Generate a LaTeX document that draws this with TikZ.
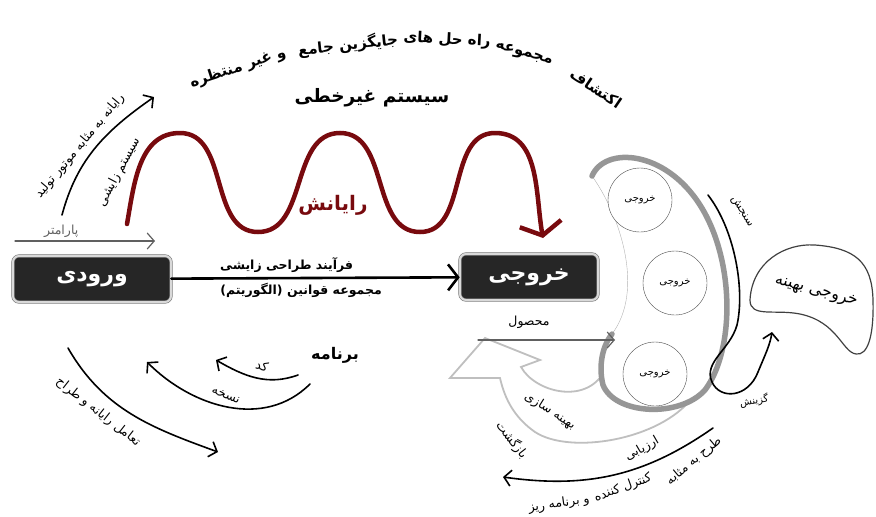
\documentclass[tikz,border=0pt]{standalone}
\usepackage{fontspec}
\usetikzlibrary{arrows.meta,positioning}
\TeXXeTstate=1
\newfontfamily\fafont[Script=Arabic]{DejaVu Sans}
\newcommand{\fa}[1]{{\fafont\beginR #1\endR}}
\definecolor{wavered}{RGB}{120,10,14}
\definecolor{shellgray}{RGB}{150,150,150}

\begin{document}
\begin{tikzpicture}[
    x = 1pt, y = -1pt, % one unit = one pixel of the sketch
    > = {Straight Barb[length=7pt,width=16pt]}, % open arrow heads
    line cap = round,
    semithick % line style
    ]

    \tikzset{
    iobox/.style = {draw = black!55, double = gray!30, double distance = 2pt,
      fill = black!85, rounded corners = 6pt, minimum height = 46pt,
      text = white, font = \fontsize{22}{24}\selectfont\bfseries},
    outcircle/.style = {circle, draw = black!70, thin, fill = white,
      minimum size = 64pt, inner sep = 0pt, font = \fontsize{10}{11}\selectfont},
    smalltext/.style = {font = \fontsize{12.5}{14}\selectfont, inner sep = 1pt},
    boldtext/.style = {font = \fontsize{12.5}{14}\selectfont\bfseries, inner sep = 1pt},
    bigtext/.style = {font = \fontsize{18.5}{20}\selectfont\bfseries, inner sep = 1pt},
    arctext/.style = {font = \fontsize{15}{17}\selectfont\bfseries, inner sep = 0pt},
    curvearrow/.style = {line width = 1.6pt},
    shell/.style = {shellgray, line width = 5.5pt},
    hollow/.style = {draw = gray!50, line width = 1.8pt, fill = white}
    }
    \useasboundingbox (0,0) rectangle (876,517);

    % boxes
    \node[iobox, minimum width = 158pt] (in) at (92,279) {\fa{ورودی}};
    \node[iobox, minimum width = 138pt] (out) at (529,277) {\fa{خروجی}};

    % optimisation loop (hollow arrow) and the shell of outputs
    \filldraw[hollow] (692,398) .. controls (660,440) and (570,455) .. (535,432)
      .. controls (515,418) and (505,400) .. (500,378) -- (450,378) -- (485,338)
      -- (540,360) -- (521,367) .. controls (535,392) and (585,405) .. (604,372) -- cycle;
    \coordinate (sh1) at (592,176);
    \coordinate (sh2) at (612,334);
    \fill[white] (sh1) .. controls (605,146) and (665,150) .. (700,205)
      .. controls (735,260) and (735,350) .. (705,390)
      .. controls (680,418) and (615,415) .. (603,385)
      .. controls (598,365) and (603,345) .. (sh2)
      .. controls (645,290) and (620,215) .. cycle;
    \draw[gray!60, thin] (sh1) .. controls (620,215) and (645,290) .. (sh2);
    \draw[shell] (sh1) .. controls (605,146) and (665,150) .. (700,205)
      .. controls (735,260) and (735,350) .. (705,390)
      .. controls (680,418) and (615,415) .. (603,385)
      .. controls (598,365) and (603,345) .. (sh2);
    \node[outcircle] (c1) at (640,200) {\fa{خروجی}};
    \node[outcircle] (c2) at (675,283) {\fa{خروجی}};
    \node[outcircle] (c3) at (655,374) {\fa{خروجی}};

    % top of the picture
    \node[arctext, rotate = 18] (t1) at (238,68) {\fa{و غیر منتظره}};
    \node[arctext, rotate = 6] (t2) at (348,45) {\fa{جایگزین جامع}};
    \node[arctext, rotate = -3] (t3) at (447,40) {\fa{راه حل های}};
    \node[arctext, rotate = -16] (t4) at (524,54) {\fa{مجموعه}};
    \node[arctext, rotate = -34] (t5) at (596,88) {\fa{اکتشاف}};
    \node[bigtext] (nonlin) at (372,98) {\fa{سیستم غیرخطی}};

    % computing wave
    \coordinate (wv0) at (127,224);
    \coordinate (wv1) at (543,238);
    \draw[wavered, line width = 4.5pt, -{Straight Barb[length=12pt,width=42pt]}]
      (wv0) to[out=80,in=180] (180,133) to[out=0,in=180] (258,232)
      to[out=0,in=180] (340,133) to[out=0,in=180] (420,232)
      to[out=0,in=180] (495,133) to[out=0,in=100] (wv1);
    \node[bigtext, wavered, font = \fontsize{20}{22}\selectfont\bfseries] (rayanesh) at (333,205) {\fa{رایانش}};

    % left side
    \coordinate (lu0) at (62,215);
    \coordinate (lu1) at (154,97);
    \path[->] (lu0) edge[curvearrow, out=75, in=215] (lu1);
    \node[smalltext, rotate = 50] at (80,146) {\fa{رایانه به مثابه موتور تولید}};
    \node[smalltext, rotate = 62] at (119,172) {\fa{سیستم زایشی}};
    \coordinate (pr0) at (15,241);
    \coordinate (pr1) at (155,241);
    \path[->] (pr0) edge[gray!75!black, line width = 1.2pt] node[smalltext, above = 2pt, pos = 0.33]{\fa{پارامتر}} (pr1);

    % main process
    \path[->, > = {Straight Barb[length=10pt,width=26pt]}] (in) edge[line width = 2.6pt]
      node[boldtext, above = 3pt, pos = 0.40]{\fa{فرآیند طراحی زایشی}}
      node[boldtext, below = 3pt, pos = 0.45]{\fa{مجموعه قوانین (الگوریتم)}} (out);

    % product
    \node[smalltext] (mahsul) [below = 14pt of out] {\fa{محصول}};
    \coordinate (mh0) at (478,340);
    \coordinate (mh1) at (615,340);
    \path[->] (mh0) edge[gray!75!black, line width = 1.2pt] (mh1);

    % program
    \node[bigtext, font = \fontsize{16}{18}\selectfont\bfseries] (prog) at (335,355) {\fa{برنامه}};
    \coordinate (kd0) at (298,375);
    \coordinate (kd1) at (216,360);
    \coordinate (ns0) at (310,384);
    \coordinate (ns1) at (147,362);
    \coordinate (ta0) at (68,348);
    \coordinate (ta1) at (218,452);
    \path[->] (kd0) edge[curvearrow, out=200, in=-30] (kd1);
    \path[->] (ns0) edge[curvearrow, out=225, in=-45] (ns1);
    \path[->] (ta0) edge[curvearrow, out=-60, in=160] (ta1);
    \node[smalltext, rotate = -15] at (262,366) {\fa{کد}};
    \node[smalltext, rotate = -22] at (226,395) {\fa{نسخه}};
    \node[smalltext, rotate = -38] at (98,412) {\fa{تعامل رایانه و طراح}};

    % optimisation labels
    \node[smalltext, rotate = -32] at (550,411) {\fa{بهینه سازی}};
    \node[smalltext, rotate = -52] at (512,440) {\fa{بازگشت}};
    \node[smalltext, rotate = 30] at (642,449) {\fa{ارزیابی}};
    \coordinate (cn0) at (713,428);
    \coordinate (cn1) at (503,477);
    \path[->] (cn0) edge[curvearrow, out=215, in=-8] (cn1);
    \node[smalltext, rotate = 40] at (694,461) {\fa{طرح به مثابه}};
    \node[smalltext, rotate = 20] at (623,488) {\fa{کنترل کننده}};
    \node[smalltext, rotate = 8] at (559,504) {\fa{و برنامه ریز}};

    % measuring and selection
    \coordinate (sj0) at (708,195);
    \coordinate (sj1) at (772,332);
    \draw[->, curvearrow] (sj0) .. controls (735,230) and (745,290) .. (737,325)
      .. controls (730,350) and (703,362) .. (712,382)
      .. controls (720,400) and (748,398) .. (758,372)
      .. controls (765,355) and (770,345) .. (sj1);
    \node[smalltext, font = \fontsize{11}{12}\selectfont, rotate = -58] at (742,212) {\fa{سنجش}};
    \node[smalltext, font = \fontsize{10}{11}\selectfont, rotate = 10] at (754,401) {\fa{گزینش}};

    % best output
    \draw[black!75, line width = 1.2pt] (750,300) .. controls (752,262) and (785,243) .. (815,245)
      .. controls (855,248) and (872,262) .. (873,300)
      .. controls (874,335) and (868,356) .. (856,354)
      .. controls (842,352) and (838,322) .. (800,314)
      .. controls (775,309) and (750,318) .. cycle;
    \node[boldtext, font = \fontsize{16}{18}\selectfont, rotate = -15] (best) at (816,292) {\fa{خروجی بهینه}};
\end{tikzpicture}
\end{document}
